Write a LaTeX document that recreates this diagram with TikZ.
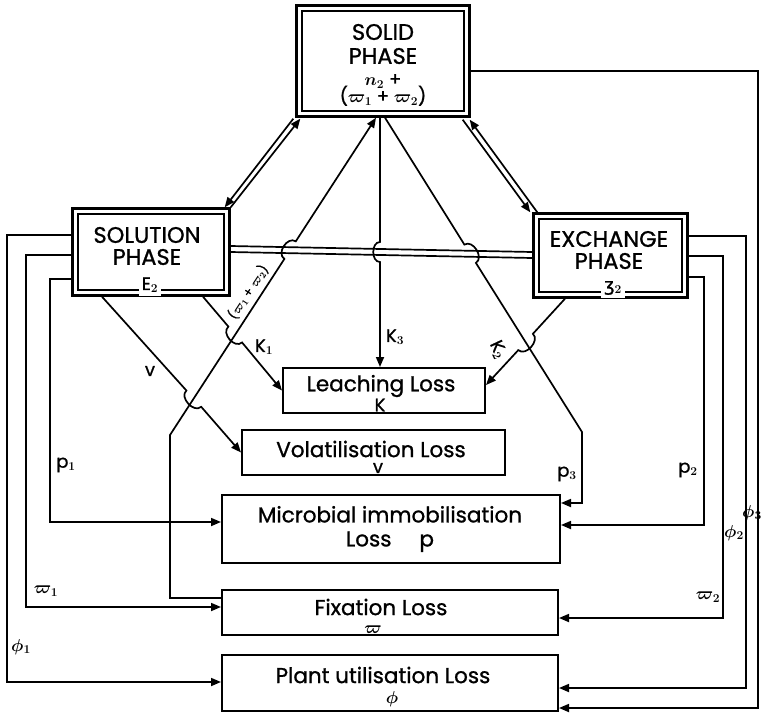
\documentclass[tikz,border=0pt]{standalone}
\usepackage{fontspec}
\setmainfont{Poppins}[FakeBold=1]
\newfontfamily\dejavu{DejaVu Sans}[FakeBold=1]
\usetikzlibrary{arrows.meta,calc}
\begin{document}
\begin{tikzpicture}[x=1pt,y=-1pt,
  outerbox/.style={draw, line width=2.4pt, inner sep=0pt},
  innerline/.style={line width=2pt},
  lossbox/.style={draw, line width=2pt, inner sep=0pt},
  boxtext/.style={font=\fontsize{21.5}{26}\selectfont, align=center, inner sep=0pt},
  phtext/.style={font=\fontsize{22.5}{26}\selectfont, align=center, inner sep=0pt},
  symtext/.style={font=\boldmath\fontsize{18}{20}\selectfont, align=center, inner sep=0pt},
  lbl/.style={font=\boldmath\fontsize{18}{20}\selectfont, inner sep=1pt},
  conn/.style={line width=1.7pt},
  arr/.style={conn, -{Triangle[length=10pt,width=8pt]}},
  plain/.style={conn},
]
\useasboundingbox (0,0) rectangle (761,716);

% ---------- phase boxes ----------
\node[outerbox, minimum width=173pt, minimum height=111pt] (solid) at (383,61) {};
\draw[innerline] ($(solid.north west)+(7,7)$) rectangle ($(solid.south east)+(-7,-7)$);
\node[phtext] (solidtxt) at (383,44) {SOLID\\[-2pt]PHASE};
\node[symtext] (solidsym) at (383,90) {$n_2$ +\\[-3pt]($\varpi_1$ + $\varpi_2$)};

\node[outerbox, minimum width=157pt, minimum height=87pt] (sol) at (151,252) {};
\draw[innerline] ($(sol.north west)+(7,7)$) rectangle ($(sol.south east)+(-7,-7)$);
\node[phtext] (soltxt) at (147,246) {SOLUTION\\[-4pt]PHASE};
\node[symtext, fill=white, inner sep=3pt] (solsym) at (150,285) {E$_2$};

\node[outerbox, minimum width=154pt, minimum height=84pt] (exch) at (610.5,255.5) {};
\draw[innerline] ($(exch.north west)+(7,7)$) rectangle ($(exch.south east)+(-7,-7)$);
\node[phtext] (exchtxt) at (609,250) {EXCHANGE\\[-4pt]PHASE};
\node[symtext, fill=white, inner sep=3pt] (exchsym) at (613,288) {{\dejavu ʒ}$_2$};

% ---------- loss boxes ----------
\node[lossbox, minimum width=202pt, minimum height=45pt] (leach) at (384,390.5) {};
\node[boxtext] (leachtxt) at (381,386) {Leaching Loss};
\node[symtext] (leachsym) at (380,405) {K};

\node[lossbox, minimum width=263pt, minimum height=45pt] (volat) at (373.5,452.5) {};
\node[boxtext] (volattxt) at (371,449) {Volatilisation Loss};
\node[symtext] (volatsym) at (378,468) {v};

\node[lossbox, minimum width=338pt, minimum height=68pt] (mic) at (391,529) {};
\node[boxtext] (mictxt) at (390,529) {Microbial immobilisation\\[-2pt]Loss\hspace{1.3em}p};

\node[lossbox, minimum width=336pt, minimum height=45pt] (fix) at (390,612.5) {};
\node[boxtext] (fixtxt) at (381,607) {Fixation Loss};
\node[symtext] (fixsym) at (373,630) {$\varpi$};

\node[lossbox, minimum width=336pt, minimum height=56pt] (plant) at (390,683) {};
\node[boxtext] (planttxt) at (383,675) {Plant utilisation Loss};
\node[symtext] (plantsym) at (392,699) {$\phi$};

% ---------- double links between phases ----------
\draw[arr] (sol.north east) -- ($(solid.south west)+(5,1)$);
\draw[arr] ($(solid.south west)+(-2,1)$) -- ($(sol.north east)+(-6,0)$);
\draw[arr] ($(solid.south east)+(-8,2)$) -- ($(exch.north west)+(-2,0)$);
\draw[arr] ($(exch.north west)+(5,0)$) -- ($(solid.south east)+(-1,2)$);
\draw[plain] (sol.east |- 0,246) -- (exch.west |- 0,252);
\draw[plain] (sol.east |- 0,252) -- (exch.west |- 0,258);

% ---------- central links ----------
\draw[arr] (sol.south -| 102,0) -- (186.4,390.5) .. controls (179.0,397.2) and (193.8,413.5) .. (201.2,406.8) -- (volat.west);
\draw[arr] (sol.south -| 203,0) -- (228.4,326.6) .. controls (220.8,333.1) and (234.5,349.0) .. (242.1,342.5) -- (leach.west);
\draw[arr] (solid.south -| 380,0) -- (380,242) .. controls (371,242) and (371,262) .. (380,262) -- (leach.north -| 380,0);
\draw[arr] (exch.south -| 565,0) -- (532.9,333.8) .. controls (540.3,340.5) and (525.7,356.8) .. (518.3,350.1) -- (leach.east |- 0,385);
\draw[arr] (fix.west |- 0,598) -- (170,598) -- (170,435) -- (284.4,258.9) .. controls (276.0,253.5) and (287.4,235.9) .. (295.8,241.3) -- (solid.south -| 376,0);
\draw[arr] (solid.south -| 385,0) -- (464.4,244.6) .. controls (472.9,239.3) and (484.4,257.6) .. (475.9,262.9) -- (582,432) -- (582,503) -- (mic.east |- 0,503);

% ---------- left side ----------
\draw[arr] (sol.west |- 0,235) -| (7,682) -- (plant.west |- 0,682);
\draw[arr] (sol.west |- 0,255) -| (26,607) -- (fix.west |- 0,607);
\draw[arr] (sol.west |- 0,279) -| (50,522) -- (mic.west |- 0,522);

% ---------- right side ----------
\draw[arr] (exch.east |- 0,277) -| (704,525) -- (mic.east |- 0,525);
\draw[arr] (exch.east |- 0,256) -| (723,618) -- (fix.east |- 0,618);
\draw[arr] (exch.east |- 0,236) -| (746,688) -- (plant.east |- 0,688);
\draw[arr] (solid.east |- 0,71) -| (758,708) -- (plant.east |- 0,708);

% ---------- labels ----------
\node[lbl] (lp1) at (66,465) {p$_1$};
\node[lbl] (lw1) at (46,591) {$\varpi_1$};
\node[lbl] (lf1) at (21,647) {$\phi_1$};
\node[lbl] (lp2) at (688,470) {p$_2$};
\node[lbl] (lw2) at (708,597) {$\varpi_2$};
\node[lbl] (lf2) at (734,533) {$\phi_2$};
\node[lbl] (lf3) at (752,513) {$\phi_3$};
\node[lbl] (lp3) at (567,474) {p$_3$};
\node[lbl] (lk1) at (264,347) {K$_1$};
\node[lbl] (lk3) at (395,337) {K$_3$};
\node[lbl, rotate=-65] (lk2) at (498,350) {K$_2$};
\node[lbl] (lv) at (150,371) {v};
\node[lbl, rotate=57, font=\boldmath\fontsize{12.5}{14}\selectfont] (lw12) at (248,292) {($\varpi_1$ + $\varpi_2$)};
\end{tikzpicture}
\end{document}
